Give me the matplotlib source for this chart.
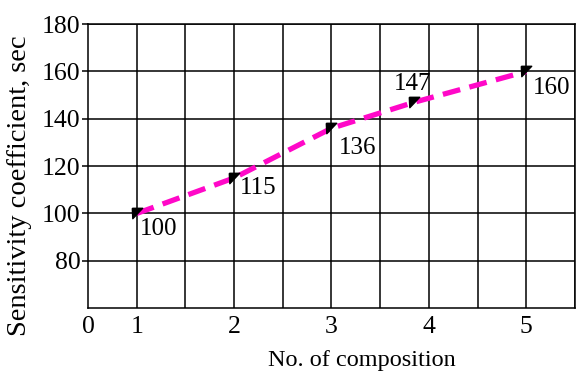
import matplotlib
matplotlib.use("Agg")
import matplotlib.pyplot as plt
import numpy as np

# data
composition = [1, 2, 3, 3.85, 5]
sensitivity = [100, 115, 136, 147, 160]
point_labels = ["100", "115", "136", "147", "160"]
xtick_pos = [0.5, 1, 2, 3, 4, 5]
xtick_labels = ["0", "1", "2", "3", "4", "5"]
yticks = [80, 100, 120, 140, 160, 180]

plt.rcParams['font.family'] = ['Liberation Serif', 'DejaVu Serif']

fig = plt.figure(figsize=(5.76, 3.72), dpi=100)
ax = fig.add_axes([0.153, 0.172, 0.845, 0.763])

# grid every half unit / every 20
for gx in np.arange(1.0, 5.51, 0.5):
    ax.axvline(gx, color='black', lw=1.1, zorder=1)
for gy in yticks:
    ax.axhline(gy, color='black', lw=1.1, zorder=1)

ax.plot(composition, sensitivity, color='#ff08c8', lw=3.8,
        dashes=(3.4, 1.8), dash_capstyle='butt', zorder=2)

tri = [(-1, 1), (1, 1), (-0.9, -1), (-1, 1)]
ax.plot(composition, sensitivity, ls='none', marker=tri, ms=7.5,
        color='black', zorder=3)

offsets = [(16, -11), (17, -7), (19, -14), (-1, 13), (18, -12)]
for x, y, s, off in zip(composition, sensitivity, point_labels, offsets):
    ax.annotate(s, (x, y), xytext=off, textcoords='offset points',
                ha='center', va='center', fontsize=18)

ax.set_xlim(0.5, 5.5)
ax.set_ylim(60, 180)
ax.set_xticks(xtick_pos)
ax.set_xticklabels(xtick_labels)
ax.set_yticks(yticks)
ax.tick_params(axis='x', length=0, pad=6, labelsize=18.5)
ax.tick_params(axis='y', length=4.5, width=1.1, pad=1, labelsize=18.5)
for sp in ax.spines.values():
    sp.set_linewidth(1.1)

ax.set_xlabel("No. of composition", fontsize=17.5)
ax.xaxis.set_label_coords(0.563, -0.148)
ax.set_ylabel("Sensitivity coefficient, sec", fontsize=20.5)
ax.yaxis.set_label_coords(-0.115, 0.43)

fig.savefig("out.png", dpi=100)
